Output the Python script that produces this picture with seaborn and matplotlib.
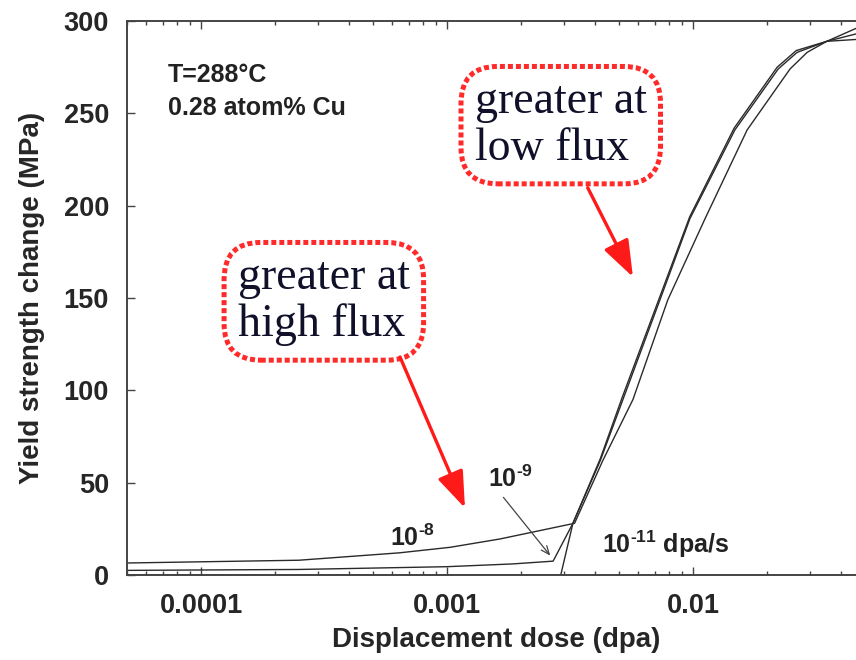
import pandas as pd
import matplotlib
matplotlib.use("Agg")
import matplotlib.pyplot as plt
from matplotlib.ticker import LogLocator, FuncFormatter, NullFormatter
import seaborn as sns

# Yield strength change vs dose, three dose rates (dpa/s)
dose_1e8 = [5.0e-5, 2.5e-4, 6.4e-4, 1.03e-3, 1.64e-3, 3.3e-3, 4.3e-3, 5.7e-3, 7.9e-3,
            1.12e-2, 1.66e-2, 2.48e-2, 2.91e-2, 3.5e-2, 4.6e-2]
dys_1e8 = [6.5, 8.0, 12.0, 15.0, 19.5, 28.0, 62.0, 95.0, 149.0,
           193.0, 241.0, 274.0, 283.0, 289.0, 296.0]

dose_1e9 = [5.0e-5, 2.5e-4, 1.0e-3, 1.85e-3, 2.7e-3, 3.25e-3, 4.2e-3, 5.19e-3, 7.34e-3,
            9.72e-3, 1.48e-2, 2.22e-2, 2.65e-2, 3.5e-2, 4.6e-2]
dys_1e9 = [2.5, 3.0, 4.5, 6.0, 7.5, 28.0, 62.0, 95.0, 149.0,
           193.0, 241.0, 274.0, 283.0, 289.0, 293.0]

dose_1e11 = [5.0e-5, 2.9e-3, 3.25e-3, 4.2e-3, 5.15e-3, 7.3e-3, 9.7e-3, 1.47e-2,
             2.2e-2, 2.63e-2, 3.5e-2, 4.6e-2]
dys_1e11 = [0.0, 0.0, 28.0, 63.0, 96.0, 150.0, 194.0, 242.0,
            275.0, 284.0, 289.0, 290.0]

x_ticks = [1e-4, 1e-3, 1e-2]
y_ticks = [0, 50, 100, 150, 200, 250, 300]

df = pd.concat([
    pd.DataFrame({"dose": dose_1e8, "dys": dys_1e8, "flux": "1e-8"}),
    pd.DataFrame({"dose": dose_1e9, "dys": dys_1e9, "flux": "1e-9"}),
    pd.DataFrame({"dose": dose_1e11, "dys": dys_1e11, "flux": "1e-11"}),
])

sns.set_style("ticks")
plt.rcParams["font.family"] = ["Liberation Sans", "DejaVu Sans"]
plt.rcParams["font.weight"] = "bold"
plt.rcParams["mathtext.fontset"] = "custom"
plt.rcParams["mathtext.rm"] = "Liberation Sans:bold"
plt.rcParams["mathtext.bf"] = "Liberation Sans:bold"
plt.rcParams["mathtext.it"] = "Liberation Sans:bold"

fig = plt.figure(figsize=(8.56, 6.6), dpi=100)
ax = fig.add_axes([127 / 856, 85 / 660, 729 / 856, 554 / 660])

sns.lineplot(data=df, x="dose", y="dys", hue="flux", estimator=None, sort=False,
             palette=["#2a2a2a"] * 3, linewidth=1.0, legend=False, ax=ax)

ax.set_xscale("log")
ax.set_xlim(5.0e-5, 4.6e-2)
ax.set_ylim(0, 300)
ax.xaxis.set_major_locator(LogLocator(base=10))
ax.xaxis.set_minor_locator(LogLocator(base=10, subs=range(2, 10)))
ax.xaxis.set_minor_formatter(NullFormatter())
ax.xaxis.set_major_formatter(FuncFormatter(lambda v, p: f"{v:g}"))
ax.set_xticks(x_ticks)
ax.set_yticks(y_ticks)

ax.tick_params(which="both", direction="in", top=True, right=False,
               labelsize=19.5, pad=13, color="#444444", width=1.0)
ax.tick_params(which="major", length=6)
ax.tick_params(which="minor", length=3)
for s in ["left", "bottom", "top"]:
    ax.spines[s].set_color("#444444")
    ax.spines[s].set_linewidth(1.4)
ax.spines["right"].set_visible(False)

ax.set_xlabel("Displacement dose (dpa)", fontsize=20, fontweight="bold")
ax.set_ylabel("Yield strength change (MPa)", fontsize=20, fontweight="bold")
ax.xaxis.set_label_coords(0.506, -0.094)
ax.yaxis.set_label_coords(-0.112, 0.5)

# conditions
ax.text(0.056, 0.924, "T=288°C\n0.28 atom% Cu", transform=ax.transAxes,
        fontsize=18, fontweight="bold", va="top", ha="left", linespacing=1.45,
        color="#222222")

# dose rate labels
ax.text(0.361, 0.052, r"$10^{\text{-}8}$", transform=ax.transAxes, fontsize=18, color="#222222")
ax.text(0.495, 0.159, r"$10^{\text{-}9}$", transform=ax.transAxes, fontsize=18, color="#222222")
ax.text(0.652, 0.040, r"$10^{\text{-}11}$ dpa/s", transform=ax.transAxes, fontsize=18,
        fontweight="bold", color="#222222")
ax.annotate("", xy=(0.583, 0.031), xytext=(0.514, 0.144),
            xycoords="axes fraction", textcoords="axes fraction",
            arrowprops=dict(arrowstyle="->,head_length=0.6,head_width=0.25",
                            color="#444444", lw=0.9))

# callout boxes
box = dict(boxstyle="round,pad=0.3,rounding_size=0.8", fc="white",
           ec="#ff2a2a", lw=3.6, ls=(0, (1.0, 0.6)))
ax.text(0.595, 0.812, "greater at\nlow flux", transform=ax.transAxes,
        family=["Liberation Serif", "DejaVu Serif"], fontweight="normal",
        fontsize=33, color="#10102a", ha="center", va="center",
        multialignment="left", linespacing=1.15, bbox=box)
ax.text(0.270, 0.494, "greater at\nhigh flux", transform=ax.transAxes,
        family=["Liberation Serif", "DejaVu Serif"], fontweight="normal",
        fontsize=33, color="#10102a", ha="center", va="center",
        multialignment="left", linespacing=1.15, bbox=box)

red_arrow = dict(arrowstyle="-|>,head_length=1.5,head_width=0.55",
                 color="#ff1a1a", lw=2.4, mutation_scale=15, shrinkA=0, shrinkB=0)
ax.annotate("", xy=(0.694, 0.538), xytext=(0.632, 0.699),
            xycoords="axes fraction", textcoords="axes fraction", arrowprops=red_arrow)
ax.annotate("", xy=(0.4636, 0.121), xytext=(0.3745, 0.3935),
            xycoords="axes fraction", textcoords="axes fraction", arrowprops=red_arrow)

fig.savefig("out.png", dpi=100)
